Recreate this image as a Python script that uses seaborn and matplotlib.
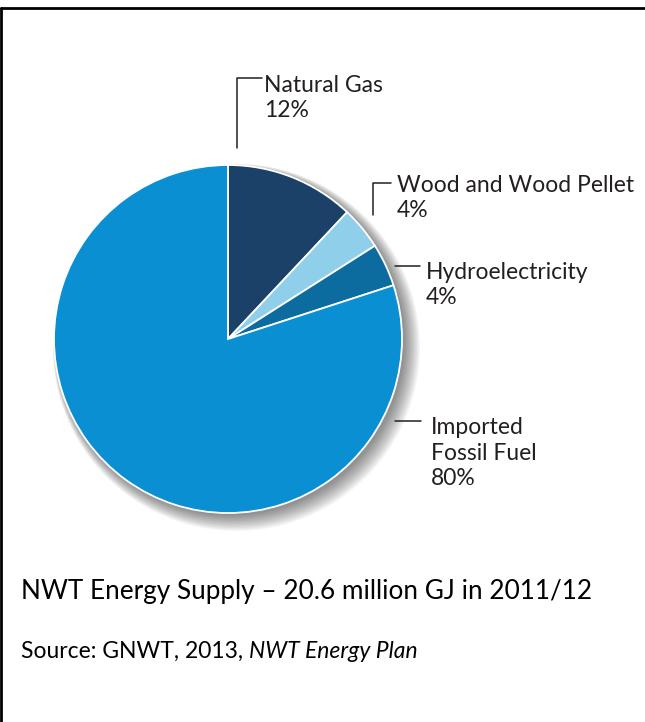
import numpy as np
import matplotlib
matplotlib.use("Agg")
import matplotlib.pyplot as plt
from matplotlib.lines import Line2D
from matplotlib.patches import Circle
import seaborn as sns

# ── Data ─────────────────────────────────────
sources = ["Natural Gas", "Wood and Wood Pellet", "Hydroelectricity", "Imported\nFossil Fuel"]
shares = [12, 4, 4, 80]
colors = ["#1b4169", "#8fcfe9", "#0c6b9f", "#0a8fd3"]

title_text = "NWT Energy Supply \u2013 20.6 million GJ in 2011/12"
source_text = "Source: GNWT, 2013, "
source_italic = "NWT Energy Plan"

sns.set_style("white")
plt.rcParams["font.family"] = ["Lato", "DejaVu Sans"]

W, H = 645, 722
fig = plt.figure(figsize=(W / 100, H / 100), dpi=100, facecolor="white")


def px(x, y):
    return x / W, 1 - y / H


# ── Pie ──────────────────────────────────────
cx, cy, r = 228, 339, 174
ax = fig.add_axes([(cx - r) / W, 1 - (cy + r) / H, 2 * r / W, 2 * r / H])

# soft drop shadow
for k in range(12):
    ax.add_patch(Circle((0.015 + k * 0.003, -0.015 - k * 0.003), 1.0 + k * 0.005,
                        color="black", alpha=0.045, lw=0, clip_on=False, zorder=0))

ax.pie(shares, colors=colors, startangle=90, counterclock=False,
       wedgeprops={"edgecolor": "white", "linewidth": 1.3})
ax.set_xlim(-1, 1)
ax.set_ylim(-1, 1)
ax.axis("off")

# ── Labels with leader lines ─────────────────
txt_color = "#231f20"
label_kw = dict(fontsize=16.5, color=txt_color, va="center", ha="left", linespacing=1.25)


def leader(points):
    xs, ys = zip(*[px(x, y) for x, y in points])
    fig.add_artist(Line2D(xs, ys, color="#231f20", lw=1.1, transform=fig.transFigure))


leader([(237, 148), (237, 78), (262, 78)])
fig.text(*px(264, 98), f"{sources[0]}\n{shares[0]}%", **label_kw)

leader([(373, 215), (373, 183), (391, 183)])
fig.text(*px(397, 198), f"{sources[1]}\n{shares[1]}%", **label_kw)

leader([(395, 266), (420, 266)])
fig.text(*px(426, 285), f"{sources[2]}\n{shares[2]}%", **label_kw)

leader([(395, 421), (421, 421)])
fig.text(*px(431, 453), f"{sources[3]}\n{shares[3]}%", **label_kw)

# ── Caption ──────────────────────────────────
fig.text(*px(21, 591), title_text, fontsize=18.8, color="black", va="center", ha="left")
src_size = 16.5
t = fig.text(*px(21, 651), source_text, fontsize=src_size, color="black", va="center", ha="left")
fig.canvas.draw()
bb = t.get_window_extent()
fig.text(bb.x1 / W, 1 - 651 / H, source_italic, fontsize=src_size, color="black",
         va="center", ha="left", style="italic")

# ── Border (left + top) ──────────────────────
fig.add_artist(Line2D([px(1, 8)[0], px(1, 722)[0]], [px(1, 8)[1], px(1, 722)[1]],
                      color="black", lw=2, transform=fig.transFigure))
fig.add_artist(Line2D([px(1, 8)[0], px(645, 8)[0]], [px(1, 8)[1], px(645, 8)[1]],
                      color="black", lw=2, transform=fig.transFigure))

fig.savefig("out.png", dpi=100, facecolor="white")
